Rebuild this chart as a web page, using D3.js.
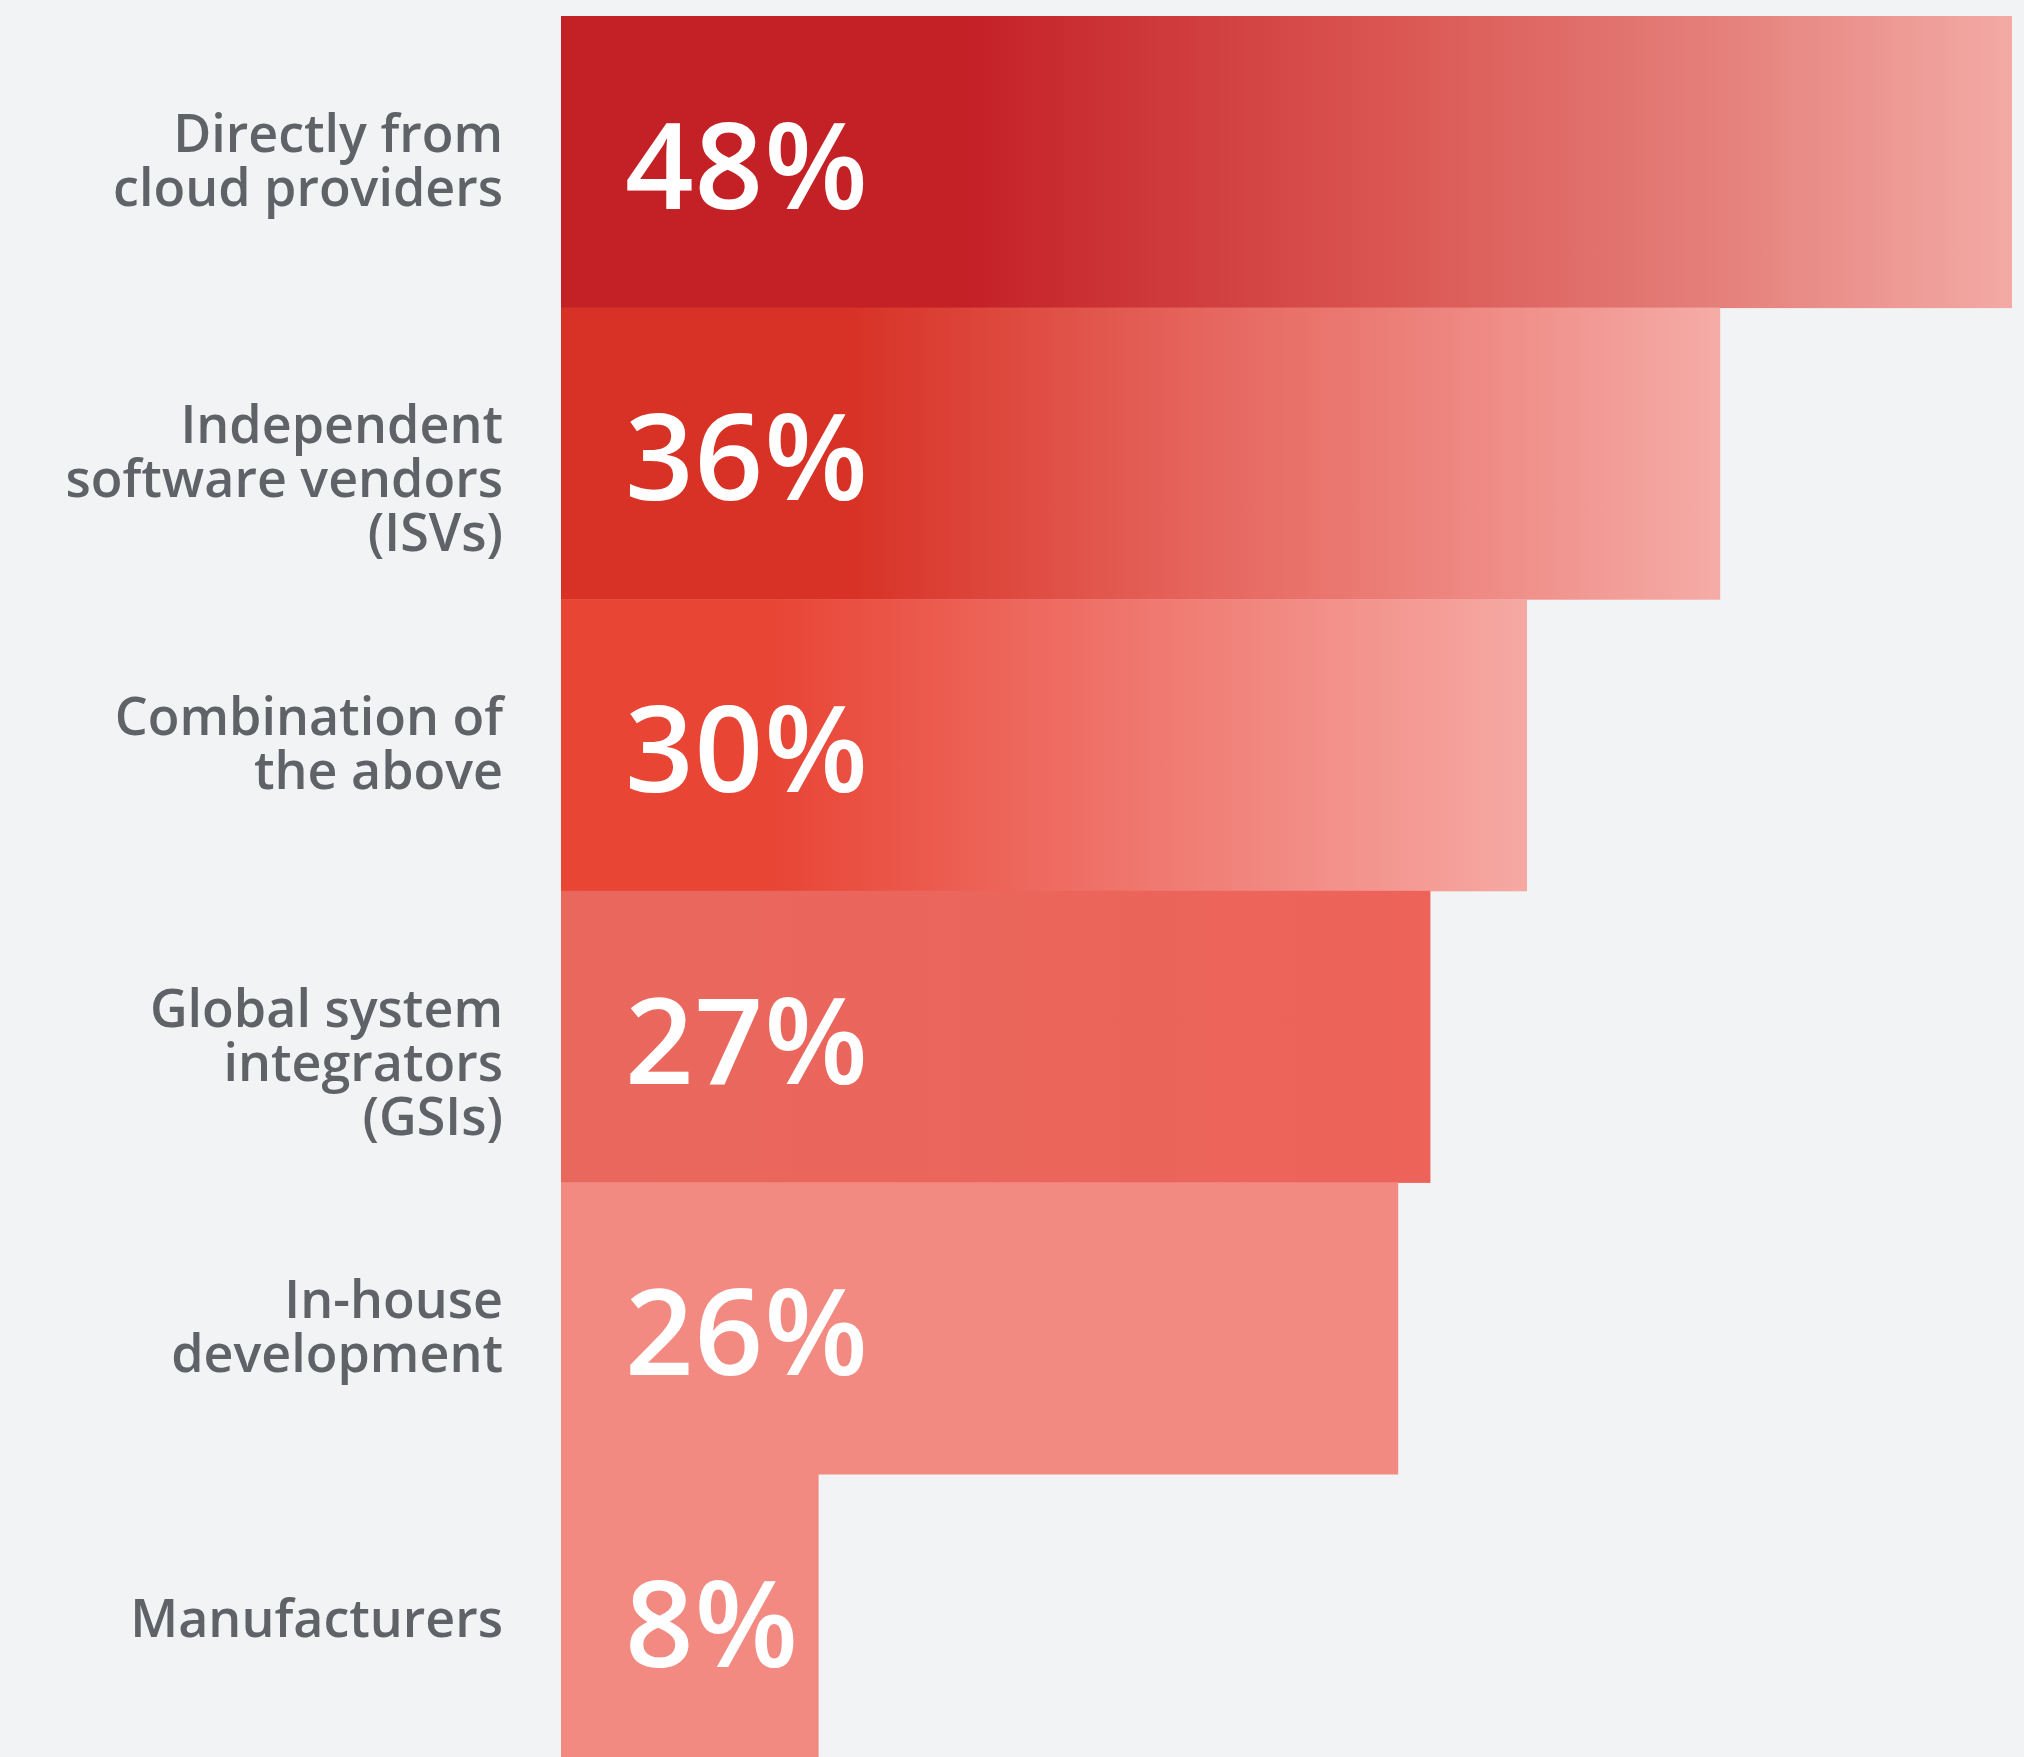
<!DOCTYPE html>
<html>
<head>
<meta charset="utf-8">
<script src="https://cdn.jsdelivr.net/npm/d3@7"></script>
<style>
  html, body { margin: 0; padding: 0; background: #f1f3f4; }
  svg { display: block; }
</style>
</head>
<body>
<svg id="chart" width="2024" height="1757"></svg>
<script>
// ---- data ----
const categories = [
  "Directly from\ncloud providers",
  "Independent\nsoftware vendors\n(ISVs)",
  "Combination of\nthe above",
  "Global system\nintegrators\n(GSIs)",
  "In-house\ndevelopment",
  "Manufacturers"
];
const values = [48, 36, 30, 27, 26, 8];
const valueLabels = ["48%", "36%", "30%", "27%", "26%", "8%"];

// ---- styles ----
const barGradients = [
  [[0, "#c42127"], [0.28, "#c42127"], [0.55, "#d9524f"], [0.8, "#e5807b"], [1, "#f3aaa5"]],
  [[0, "#d83226"], [0.25, "#d83226"], [0.55, "#e5655d"], [0.8, "#ef8b85"], [1, "#f5aca7"]],
  [[0, "#e84535"], [0.22, "#e84535"], [0.5, "#ee6a60"], [0.78, "#f28e87"], [1, "#f6a9a3"]],
  [[0, "#e9685e"], [1, "#ed6359"]],
  [[0, "#f28a82"], [1, "#f28a82"]],
  [[0, "#f28a82"], [1, "#f28a82"]]
];
const W = 2024, H = 1757;
const mLeft = 561, mTop = 16, step = 291.6, clipRight = 2012;
const pxPerPct = 32.2;

const svg = d3.select("#chart");
svg.append("rect").attr("width", W).attr("height", H).attr("fill", "#f1f3f4");

const x = d3.scaleLinear().domain([0, 1]).range([mLeft, mLeft + pxPerPct]);
const y = d3.scaleBand().domain(d3.range(categories.length))
  .range([mTop, mTop + step * categories.length]).paddingInner(0).paddingOuter(0);

const defs = svg.append("defs");
defs.append("clipPath").attr("id", "plotclip")
  .append("rect").attr("x", 0).attr("y", 0).attr("width", clipRight).attr("height", H);

values.forEach((v, i) => {
  const g = defs.append("linearGradient").attr("id", "grad" + i)
    .attr("gradientUnits", "userSpaceOnUse")
    .attr("x1", x(0)).attr("x2", Math.min(x(v), clipRight)).attr("y1", 0).attr("y2", 0);
  barGradients[i].forEach(s => g.append("stop").attr("offset", s[0]).attr("stop-color", s[1]));
});

const bars = svg.append("g").attr("clip-path", "url(#plotclip)");
bars.selectAll("rect.bar").data(values).join("rect")
  .attr("class", "bar")
  .attr("x", x(0))
  .attr("y", (d, i) => y(i))
  .attr("width", d => x(d) - x(0))
  .attr("height", y.bandwidth() + 0.5)
  .attr("fill", (d, i) => `url(#grad${i})`);

// value labels
svg.selectAll("text.val").data(valueLabels).join("text")
  .attr("class", "val")
  .attr("x", x(0) + 64)
  .attr("y", (d, i) => y(i) + y.bandwidth() / 2 + 47)
  .attr("fill", "#ffffff")
  .attr("font-family", "'Open Sans', Roboto, sans-serif")
  .attr("font-weight", 600)
  .attr("font-size", 120)
  .attr("letter-spacing", 1)
  .text(d => d);

// category labels
const lh = 54, cap = 38;
const lab = svg.selectAll("text.cat").data(categories).join("text")
  .attr("class", "cat")
  .attr("text-anchor", "end")
  .attr("fill", "#5f6368")
  .attr("font-family", "'Open Sans', Roboto, sans-serif")
  .attr("font-weight", 600)
  .attr("font-size", 52);
lab.each(function(d, i) {
  const lines = d.split("\n");
  const n = Math.min(lines.length, 2);
  const cy = y(i) + y.bandwidth() / 2;
  const first = cy - (n - 1) * lh / 2 + cap / 2 - 2;
  d3.select(this).selectAll("tspan").data(lines).join("tspan")
    .attr("x", 503)
    .attr("y", (t, k) => first + k * lh)
    .text(t => t);
});
</script>
</body>
</html>
